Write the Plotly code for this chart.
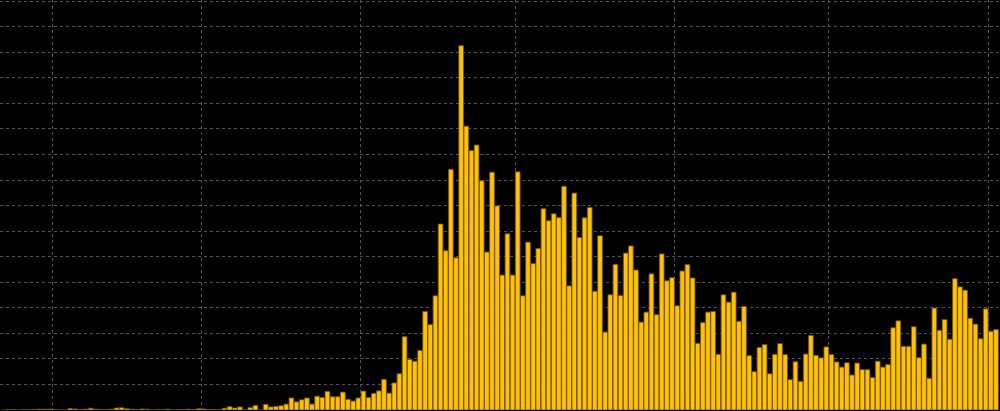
import pandas as pd
import plotly.graph_objects as go

start_date = "2020-01-22"
daily_cases = [
    0, 1, 2, 0, 1, 1, 2, 3, 3, 3,
    2, 0, 0, 6, 4, 2, 3, 7, 3, 2,
    2, 3, 8, 9, 5, 3, 2, 4, 3, 0,
    1, 1, 3, 0, 2, 2, 3, 2, 5, 4,
    2, 2, 1, 7, 13, 8, 12, 0, 10, 18,
    0, 22, 12, 14, 17, 23, 47, 32, 40, 47,
    23, 54, 49, 73, 52, 52, 70, 42, 35, 47,
    74, 49, 65, 75, 120, 66, 106, 142, 287, 198,
    191, 233, 386, 334, 447, 728, 623, 942, 596, 1426,
    1111, 1016, 1037, 897, 618, 931, 799, 528, 690, 528,
    932, 447, 657, 573, 632, 788, 741, 768, 753, 876,
    486, 849, 675, 752, 793, 465, 682, 305, 451, 570,
    448, 614, 642, 548, 344, 383, 533, 373, 611, 506,
    518, 408, 544, 569, 517, 261, 342, 383, 386, 218,
    451, 422, 461, 347, 405, 213, 150, 245, 256, 142,
    218, 260, 217, 119, 189, 112, 219, 292, 214, 204,
    247, 217, 188, 168, 185, 137, 184, 158, 158, 127,
    191, 168, 178, 322, 349, 249, 249, 326, 205, 258,
    124, 399, 312, 354, 277, 514, 482, 469, 359, 336,
    279, 396, 308, 315,
]
dates = pd.date_range(start_date, periods=len(daily_cases), freq="D")

x_range = ["2020-01-21 20:02", "2020-08-03 06:34"]
y_range = [0, 1604.7]
y_step = 100

fig = go.Figure(
    go.Bar(
        x=dates,
        y=daily_cases,
        xperiod=86400000,
        xperiodalignment="middle",
        marker=dict(color="#FFC107", line=dict(color="#6e5200", width=0.8)),
        hoverinfo="x+y",
    )
)

fig.update_layout(
    width=1000,
    height=411,
    margin=dict(l=0, r=0, t=0, b=1),
    paper_bgcolor="#000000",
    plot_bgcolor="#000000",
    bargap=0.08,
    showlegend=False,
    xaxis=dict(
        type="date",
        range=x_range,
        tick0="2020-01-01",
        dtick="M1",
        showgrid=True,
        gridcolor="#555555",
        griddash="dot",
        gridwidth=1,
        showticklabels=False,
        ticks="",
        zeroline=False,
        showline=False,
    ),
    yaxis=dict(
        range=y_range,
        dtick=y_step,
        showgrid=True,
        gridcolor="#555555",
        griddash="dot",
        gridwidth=1,
        showticklabels=False,
        ticks="",
        zeroline=False,
        showline=True,
        linecolor="#808080",
        linewidth=1,
    ),
)

fig.write_html(
    "out.html",
    config={"displayModeBar": False},
    post_script="document.body.style.margin='0';document.body.style.overflow='hidden';",
)
